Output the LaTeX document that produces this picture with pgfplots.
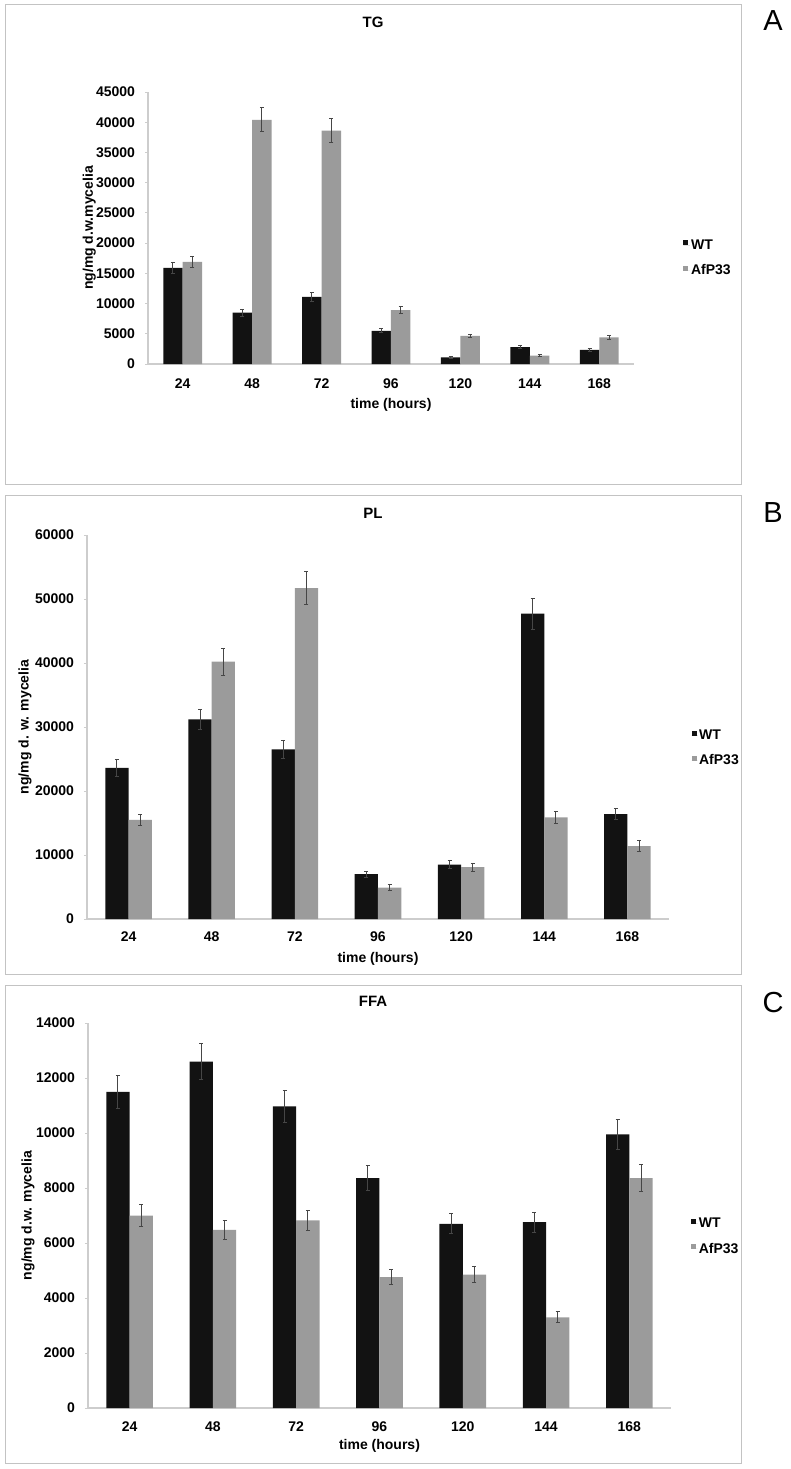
\documentclass[border=0pt]{standalone}
\usepackage{fontspec}
\setmainfont{Liberation Sans}
\usepackage{pgfplots}
\usepackage{pgfplotstable}
\pgfplotsset{compat=1.18}
\definecolor{wtc}{RGB}{18,18,18}
\definecolor{afc}{RGB}{155,155,155}
\definecolor{axgray}{RGB}{205,205,205}
\definecolor{errc}{RGB}{70,70,70}
\definecolor{framec}{RGB}{195,195,195}

\pgfplotstableread{
x wt wte af afe
0 15900 900 16900 900
1 8500 600 40400 2000
2 11100 800 38600 2000
3 5500 300 8900 600
4 1100 200 4650 300
5 2800 200 1400 200
6 2350 200 4400 300
}\dataA
\pgfplotstableread{
x wt wte af afe
0 23600 1300 15500 900
1 31200 1600 40200 2100
2 26500 1400 51700 2600
3 7000 500 4900 500
4 8500 600 8100 600
5 47700 2400 15900 900
6 16400 900 11400 800
}\dataB
\pgfplotstableread{
x wt wte af afe
0 11500 600 7000 400
1 12600 650 6480 350
2 10970 580 6820 380
3 8360 460 4760 270
4 6700 360 4850 280
5 6760 360 3300 200
6 9950 550 8360 480
}\dataC

\pgfplotsset{
  panel/.style={
    scale only axis,
    ybar, bar width=0.28,
    xmin=-0.5, xmax=6.5, ymin=0,
    xtick={0,...,6}, xticklabels={24,48,72,96,120,144,168},
    axis x line*=bottom, axis y line*=left,
    x axis line style={-, axgray, line width=0.6pt},
    y axis line style={-, axgray, line width=0.6pt},
    tick align=outside,
    major tick length=1.5pt,
    x tick style={draw=none},
    y tick style={axgray, line width=0.5pt},
    scaled y ticks=false,
    /pgf/number format/.cd, 1000 sep={}, assume math mode=true, /pgfplots/.cd,
    tick label style={font=\fontsize{7}{8}\selectfont\bfseries},
    yticklabel style={xshift=-1.5pt},
    label style={font=\fontsize{7}{8}\selectfont\bfseries},
    xlabel={time (hours)},
    legend style={draw=none, fill=none, anchor=west,
      font=\fontsize{7}{8}\selectfont\bfseries,
      row sep=5pt, inner sep=0pt, nodes={inner sep=0.6pt}, cells={anchor=west}},
    legend image code/.code={\fill[##1] (0pt,0.3pt) rectangle (2.5pt,2.8pt); \path (0pt,0.3pt) -- (3.2pt,0.3pt);},
    error bars/error bar style={errc, line width=0.5pt},
    error bars/error mark options={errc, rotate=90, mark size=1pt, line width=0.5pt},
  },
  wtbar/.style={fill=wtc, draw=none, bar shift=-0.14,
    error bars/.cd, y dir=both, y explicit},
  afbar/.style={fill=afc, draw=none, bar shift=0.14,
    error bars/.cd, y dir=both, y explicit},
}

\begin{document}
\begin{tikzpicture}
\path (0pt,0pt) rectangle (394.5pt,-734.5pt);
% frames
\draw[framec, line width=0.5pt] (2.5pt,-2pt) rectangle (370.5pt,-242pt);
\draw[framec, line width=0.5pt] (2.5pt,-247.5pt) rectangle (370.5pt,-487pt);
\draw[framec, line width=0.5pt] (2.5pt,-492.5pt) rectangle (370.5pt,-731.5pt);
% letters
\node[font=\fontsize{14.5}{16}\selectfont] at (386.5pt,-10.5pt) {A};
\node[font=\fontsize{14.5}{16}\selectfont] at (386.5pt,-256.5pt) {B};
\node[font=\fontsize{14.5}{16}\selectfont] at (386.5pt,-501.5pt) {C};
% titles
\node[font=\fontsize{7.5}{9}\selectfont\bfseries] at (186.5pt,-11pt) {TG};
\node[font=\fontsize{7.5}{9}\selectfont\bfseries] at (186.5pt,-256.5pt) {PL};
\node[font=\fontsize{7.5}{9}\selectfont\bfseries] at (186.5pt,-500.5pt) {FFA};

% Panel A
\begin{axis}[panel, at={(74pt,-182pt)}, anchor=south west,
  width=243pt, height=136pt, ymax=45000, ytick={0,5000,...,45000},
  ylabel={ng/mg d.w.mycelia},
  ylabel style={at={(axis description cs:-0.121,0.5)}, anchor=center},
  xlabel style={at={(axis description cs:0.5,0)}, anchor=center, yshift=-20.5pt},
  xticklabel style={anchor=center, yshift=-8.5pt},
  legend style={at={(axis description cs:1.101,0.387)}}]
\addplot[wtbar] table[x=x, y=wt, y error=wte] {\dataA};
\addplot[afbar] table[x=x, y=af, y error=afe] {\dataA};
\legend{WT,AfP33}
\end{axis}

% Panel B
\begin{axis}[panel, at={(43.5pt,-459.5pt)}, anchor=south west,
  width=291pt, height=192pt, ymax=60000, ytick={0,10000,...,60000},
  ylabel={ng/mg d. w. mycelia},
  ylabel style={at={(axis description cs:-0.1065,0.5)}, anchor=center},
  xlabel style={at={(axis description cs:0.5,0)}, anchor=center, yshift=-20pt},
  xticklabel style={anchor=center, yshift=-7.5pt},
  legend style={at={(axis description cs:1.038,0.443)}}]
\addplot[wtbar] table[x=x, y=wt, y error=wte] {\dataB};
\addplot[afbar] table[x=x, y=af, y error=afe] {\dataB};
\legend{WT,AfP33}
\end{axis}

% Panel C
\begin{axis}[panel, at={(44pt,-704pt)}, anchor=south west,
  width=291.5pt, height=192.5pt, ymax=14000, ytick={0,2000,...,14000},
  ylabel={ng/mg d.w. mycelia},
  ylabel style={at={(axis description cs:-0.103,0.5)}, anchor=center},
  xlabel style={at={(axis description cs:0.5,0)}, anchor=center, yshift=-19pt},
  xticklabel style={anchor=center, yshift=-8pt},
  legend style={at={(axis description cs:1.034,0.444)}}]
\addplot[wtbar] table[x=x, y=wt, y error=wte] {\dataC};
\addplot[afbar] table[x=x, y=af, y error=afe] {\dataC};
\legend{WT,AfP33}
\end{axis}
\end{tikzpicture}
\end{document}
